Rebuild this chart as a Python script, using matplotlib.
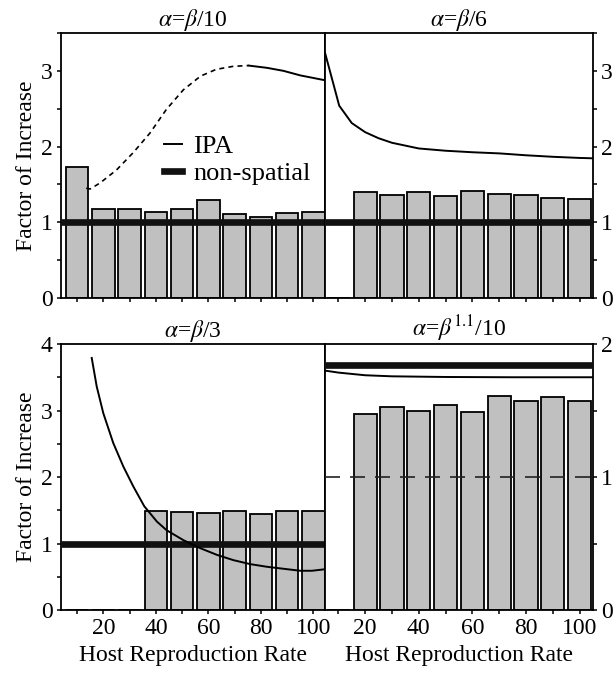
import matplotlib
matplotlib.use("Agg")
import matplotlib.pyplot as plt
from matplotlib.lines import Line2D
from matplotlib.ticker import MultipleLocator, FixedLocator

plt.rcParams['font.family'] = ['Liberation Serif', 'DejaVu Serif']
plt.rcParams['mathtext.fontset'] = 'stix'

# ---------------- data ----------------
rates = [10, 20, 30, 40, 50, 60, 70, 80, 90, 100]

bars_a10 = [1.73, 1.17, 1.18, 1.13, 1.18, 1.29, 1.11, 1.07, 1.12, 1.13]
bars_a6 = [0.0, 1.40, 1.36, 1.395, 1.35, 1.41, 1.37, 1.365, 1.32, 1.31]
bars_a3 = [0.0, 0.0, 0.0, 1.49, 1.47, 1.465, 1.485, 1.45, 1.485, 1.485]
bars_a11 = [0.0, 1.47, 1.525, 1.50, 1.545, 1.49, 1.61, 1.575, 1.60, 1.575]

ipa_a10_dash_x = [13.5, 15, 18.8, 25, 31.4, 37.8, 44, 50.5, 57, 63, 69.5, 75.3]
ipa_a10_dash_y = [1.45, 1.44, 1.52, 1.69, 1.92, 2.18, 2.49, 2.75, 2.93, 3.02, 3.06, 3.07]
ipa_a10_x = [75.3, 82.3, 88.6, 95, 103.8]
ipa_a10_y = [3.07, 3.04, 3.0, 2.94, 2.88]

ipa_a6_x = [5, 10.3, 15, 20, 25, 30, 40, 50, 60, 70, 80, 90, 100, 105]
ipa_a6_y = [3.24, 2.54, 2.31, 2.19, 2.11, 2.05, 1.975, 1.945, 1.925, 1.91, 1.885, 1.865, 1.85, 1.845]

ipa_a3_x = [15.6, 17.5, 20, 23.8, 27.6, 31.4, 35.6, 40.4, 44.1, 50.5, 56.9, 63.2, 69.5, 75.9, 82.3, 88.6, 95, 99.4, 103.8]
ipa_a3_y = [3.79, 3.36, 2.96, 2.51, 2.16, 1.86, 1.56, 1.33, 1.20, 1.05, 0.93, 0.83, 0.75, 0.69, 0.65, 0.62, 0.59, 0.59, 0.61]

ipa_a11_x = [5, 10, 15, 20, 30, 50, 75, 105]
ipa_a11_y = [1.80, 1.785, 1.775, 1.765, 1.757, 1.752, 1.75, 1.75]

nonspatial = [1.0, 1.0, 1.0, 1.84]
ref_dashed_a11 = 1.0

titles = [r'$\alpha$=$\beta$/10', r'$\alpha$=$\beta$/6', r'$\alpha$=$\beta$/3', r'$\alpha$=$\beta^{1.1}$/10']
ylims = [3.5, 3.5, 4.0, 2.0]
ylabel = 'Factor of Increase'
xlabel = 'Host Reproduction Rate'
legend_labels = ['IPA', 'non-spatial']

# ---------------- layout ----------------
W, H = 616, 678
fig = plt.figure(figsize=(W / 100, H / 100), dpi=100)

def ax_at(x0, x1, y0, y1):
    return fig.add_axes([x0 / W, 1 - y1 / H, (x1 - x0) / W, (y1 - y0) / H])

ax_tl = ax_at(61, 325, 33, 298)
ax_tr = ax_at(325, 593, 33, 298)
ax_bl = ax_at(61, 325, 344, 610)
ax_br = ax_at(325, 593, 344, 610)
axes = [ax_tl, ax_tr, ax_bl, ax_br]
bars = [bars_a10, bars_a6, bars_a3, bars_a11]

FS = 17
BAR_FC = '#c0c0c0'
THICK = 4.8
THIN = 1.4

for i, ax in enumerate(axes):
    right = i in (1, 3)
    ax.set_xlim(5, 105) if right else ax.set_xlim(3.9, 104.4)
    ax.set_ylim(0, ylims[i])
    ax.bar(rates, bars[i], width=8.6, color=BAR_FC, edgecolor='black', linewidth=1.3, zorder=2)
    ax.axhline(nonspatial[i], color='#111111', lw=THICK, zorder=3, solid_capstyle='butt')
    ax.set_title(titles[i], fontsize=FS, pad=5)
    for s in ax.spines.values():
        s.set_linewidth(1.3)
    ax.xaxis.set_major_locator(FixedLocator([20, 40, 60, 80, 100]))
    ax.xaxis.set_minor_locator(FixedLocator([10, 30, 50, 70, 90]))
    ax.yaxis.set_major_locator(MultipleLocator(1))
    ax.yaxis.set_minor_locator(MultipleLocator(0.5))
    ax.tick_params(which='both', direction='out', length=3, width=1.1, labelsize=FS, pad=3)
    if right:
        ax.yaxis.tick_right()
        ax.yaxis.set_label_position('right')
    else:
        ax.set_ylabel(ylabel, fontsize=FS, labelpad=3)
    if i < 2:
        ax.tick_params(axis='x', labelbottom=False)
    else:
        ax.set_xlabel(xlabel, fontsize=FS, labelpad=4)

# curves
ax_tl.plot(ipa_a10_dash_x, ipa_a10_dash_y, color='black', lw=1.2, ls=(0, (3, 2.5)), zorder=4)
ax_tl.plot(ipa_a10_x, ipa_a10_y, color='black', lw=THIN, zorder=4)
ax_tr.plot(ipa_a6_x, ipa_a6_y, color='black', lw=THIN, zorder=4)
ax_bl.plot(ipa_a3_x, ipa_a3_y, color='black', lw=THIN, zorder=4)
ax_br.plot(ipa_a11_x, ipa_a11_y, color='black', lw=THIN, zorder=4)
ax_br.axhline(ref_dashed_a11, color='#222222', lw=1.2, ls=(0, (9, 6)), zorder=3)

# legend
handles = [Line2D([], [], color='black', lw=THIN), Line2D([], [], color='#111111', lw=THICK)]
fig.legend(handles, legend_labels, loc='center left', bbox_to_anchor=(164 / W, 1 - 160 / H),
           frameon=False, fontsize=19, handlelength=0.7, handletextpad=0.4,
           labelspacing=0.15, borderpad=0, borderaxespad=0)

fig.savefig('out.png', dpi=100)
